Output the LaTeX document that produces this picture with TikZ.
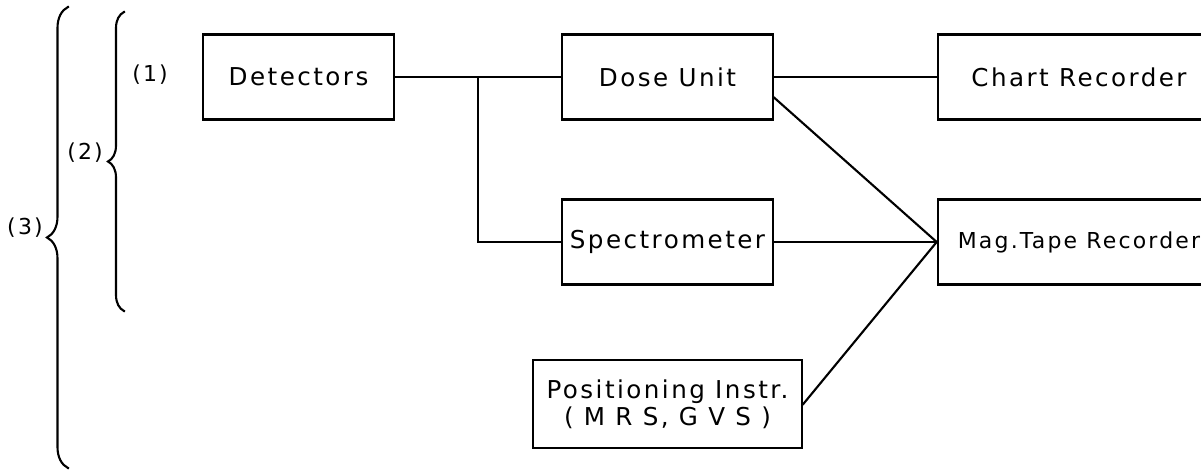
\documentclass[tikz,border=0pt]{standalone}
\usepackage{fontspec}
\newfontfamily\plotfont{DejaVu Sans}[LetterSpace=10]
\usetikzlibrary{calc,decorations.pathreplacing}

\begin{document}
\begin{tikzpicture}[x=0.02cm, y=-0.02cm, line cap=rect,
  font=\plotfont\fontsize{14}{15.5}\selectfont,
  unit/.style={draw, line width=1.5pt, minimum height=1.7cm, inner sep=0pt},
  wire/.style={line width=1.2pt},
  bracket/.style={line width=1.2pt, decorate, decoration={brace, amplitude=#1}},
  tag/.style={font=\plotfont\fontsize{12.5}{14}\selectfont}]
  \useasboundingbox (0,0) rectangle (1201,473);
  \clip (0,0) rectangle (1201,473);
  % blocks
  \node[unit, minimum width=3.82cm] (det) at (298.5,77) {Detectors};
  \node[unit, minimum width=4.22cm] (dose) at (667.5,77) {Dose Unit};
  \node[unit, minimum width=5.64cm] (chart) at (1079,77) {Chart Recorder};
  \node[unit, minimum width=4.22cm] (spec) at (667.5,242) {Spectrometer};
  \node[unit, minimum width=5.64cm,
    font=\plotfont\fontsize{12.5}{14}\selectfont] (tape) at (1079,242) {Mag.Tape Recorder};
  \node[unit, minimum width=5.38cm, minimum height=1.76cm, align=center] (pos) at (667.5,404)
    {Positioning Instr.\\( M R S, G V S )};
  % signal lines
  \coordinate (jn) at ($(det.east)!0.5!(dose.west)$);
  \draw[wire] (det.east) -- (dose.west);
  \draw[wire] (jn) |- (spec.west);
  \draw[wire] (dose.east) -- (chart.west);
  \draw[wire] (dose.-11) -- (tape.west);
  \draw[wire] (spec.east) -- (tape.west);
  \draw[wire] (pos.east) -- (tape.west);
  % grouping braces
  \node[tag] (l1) at (150,75) {(1)};
  \draw[bracket=0.32cm] (124,311) -- (124,12);
  \node[tag] (l2) at (85,153) {(2)};
  \draw[bracket=0.42cm] (68,468) -- (68,7);
  \node[tag] (l3) at (25,228) {(3)};
\end{tikzpicture}
\end{document}
